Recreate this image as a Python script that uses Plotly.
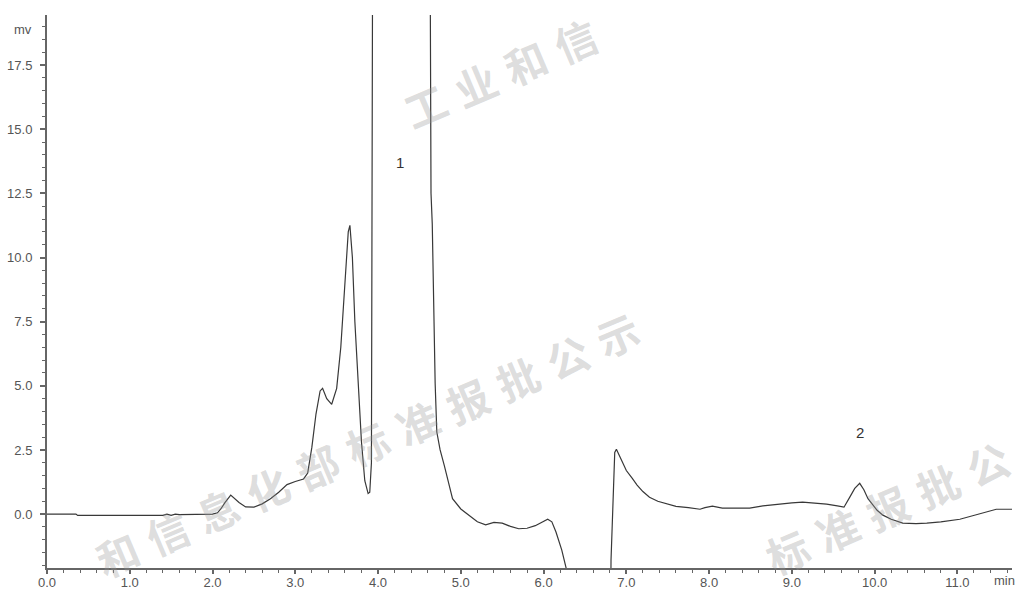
import plotly.graph_objects as go

# Chromatogram readings (retention time, min / signal, mV)
time_min = [0.0, 0.35, 0.37, 1.0, 1.4, 1.45, 1.5, 1.55, 1.6, 2.0, 2.06, 2.1, 2.15, 2.22, 2.27,
            2.32, 2.4, 2.5, 2.6, 2.7, 2.8, 2.9, 3.0, 3.1, 3.15, 3.2, 3.25, 3.3, 3.33, 3.38,
            3.44, 3.5, 3.55, 3.6, 3.64, 3.66, 3.69, 3.72, 3.76, 3.8, 3.84, 3.88, 3.9, 3.92,
            3.94, 4.3, 4.62, 4.64, 4.655, 4.67, 4.69, 4.71, 4.75, 4.8, 4.85, 4.9, 5.0, 5.1,
            5.2, 5.3, 5.4, 5.5, 5.6, 5.7, 5.8, 5.9, 6.0, 6.05, 6.1, 6.15, 6.22, 6.28, 6.35,
            6.8, 6.815, 6.86, 6.88, 6.93, 7.0, 7.07, 7.13, 7.2, 7.28, 7.38, 7.49, 7.6, 7.75,
            7.89, 7.95, 8.04, 8.16, 8.3, 8.49, 8.65, 8.82, 9.0, 9.13, 9.3, 9.42, 9.55, 9.63,
            9.7, 9.76, 9.82, 9.87, 9.92, 9.96, 10.03, 10.1, 10.2, 10.34, 10.5, 10.63, 10.8,
            11.03, 11.25, 11.4, 11.47, 11.72]
signal_mv = [0.0, 0.0, -0.05, -0.05, -0.05, 0.0, -0.05, 0.0, -0.02, 0.0, 0.05, 0.2, 0.45, 0.74, 0.6,
             0.45, 0.28, 0.27, 0.4, 0.6, 0.85, 1.15, 1.27, 1.37, 1.6, 2.6, 3.9, 4.8, 4.9, 4.5,
             4.28, 4.9, 6.5, 9.0, 11.0, 11.25, 10.0, 7.5, 5.0, 2.8, 1.3, 0.8, 0.85, 2.0,
             30.0, 90.0, 30.0, 12.5, 11.3, 8.0, 5.1, 3.2, 2.5, 1.9, 1.2, 0.6, 0.2, -0.05,
             -0.3, -0.42, -0.32, -0.35, -0.48, -0.57, -0.55, -0.45, -0.28, -0.2, -0.3, -0.7, -1.4, -2.2, -8.0,
             -8.0, -1.8, 2.4, 2.53, 2.2, 1.7, 1.4, 1.13, 0.88, 0.66, 0.5, 0.39, 0.3, 0.25,
             0.19, 0.25, 0.31, 0.23, 0.22, 0.23, 0.32, 0.39, 0.44, 0.47, 0.43, 0.39, 0.32, 0.27,
             0.66, 1.0, 1.2, 0.95, 0.6, 0.43, 0.15, -0.04, -0.2, -0.35, -0.37, -0.35, -0.3,
             -0.2, 0.0, 0.15, 0.19, 0.19]

peak_labels = ["1", "2"]
peak_label_time = [4.26, 9.82]
peak_label_mv = [13.7, 3.2]

y_ticks = [0.0, 2.5, 5.0, 7.5, 10.0, 12.5, 15.0, 17.5]
x_ticks = [0.0, 1.0, 2.0, 3.0, 4.0, 5.0, 6.0, 7.0, 8.0, 9.0, 10.0, 11.0]

watermark = "工业和信息化部标准报批公示"

W, H = 1024, 592
L, R, T, B = 47, 12, 15, 24
pw, ph = W - L - R, H - T - B

def px_to_paper(px, py):
    return (px - L) / pw, (H - B - py) / ph

fig = go.Figure()
fig.add_trace(go.Scatter(x=time_min, y=signal_mv, mode="lines",
                         line=dict(color="#383838", width=1.2), hoverinfo="skip",
                         showlegend=False))

annotations = []
# watermark lines: (px, py) of first character, step per char
wm_lines = [(425, 105), (17, 597), (437, 704)]
step = (50, -22)
margin_ok = 26
for (x0, y0) in wm_lines:
    for i, ch in enumerate(watermark):
        px, py = x0 + step[0] * i, y0 + step[1] * i
        if px < margin_ok or px > W - margin_ok or py < margin_ok or py > H - margin_ok:
            continue
        ax, ay = px_to_paper(px, py)
        annotations.append(dict(x=ax, y=ay, xref="paper", yref="paper", text=ch,
                                showarrow=False, textangle=-23, xanchor="center",
                                yanchor="middle",
                                font=dict(family="Noto Sans CJK SC", size=42, weight=700,
                                          color="rgba(150,150,150,0.33)")))

for lab, t, v in zip(peak_labels, peak_label_time, peak_label_mv):
    annotations.append(dict(x=t, y=v, xref="x", yref="y", text=lab, showarrow=False,
                            xanchor="center", yanchor="middle",
                            font=dict(family="Liberation Sans, Arial", size=15, color="#333333")))

ax_, ay_ = px_to_paper(23, 30)
annotations.append(dict(x=ax_, y=ay_, xref="paper", yref="paper", text="mv", showarrow=False,
                        xanchor="center", yanchor="middle",
                        font=dict(family="Liberation Sans, Arial", size=13, color="#555555")))
ax_, ay_ = px_to_paper(1004, 580)
annotations.append(dict(x=ax_, y=ay_, xref="paper", yref="paper", text="min", showarrow=False,
                        xanchor="center", yanchor="middle",
                        font=dict(family="Liberation Sans, Arial", size=13, color="#555555")))

fig.update_layout(
    width=W, height=H,
    margin=dict(l=L, r=R, t=T, b=B),
    paper_bgcolor="white", plot_bgcolor="white",
    annotations=annotations,
    font=dict(family="Liberation Sans, Arial", size=13, color="#555555"),
)
fig.update_xaxes(range=[0, 11.66], tickvals=x_ticks, ticktext=[f"{v:.1f}" for v in x_ticks],
                 automargin=False, ticklabelstandoff=-3,
                 showgrid=False, zeroline=False, showline=True, linecolor="#666666", linewidth=2,
                 ticks="outside", ticklen=4, tickwidth=1.5, tickcolor="#666666",
                 minor=dict(dtick=0.2, tick0=0, ticks="outside", ticklen=3, tickwidth=1.2,
                            tickcolor="#666666", showgrid=False))
fig.update_yaxes(range=[-2.1, 19.45], tickvals=y_ticks, ticktext=[f"{v:.1f}" for v in y_ticks],
                 automargin=False, ticklabelstandoff=5,
                 showgrid=False, zeroline=False, showline=True, linecolor="#666666", linewidth=2,
                 ticks="outside", ticklen=5, tickwidth=1.5, tickcolor="#666666",
                 minor=dict(dtick=0.5, tick0=0, ticks="outside", ticklen=3, tickwidth=1.2,
                            tickcolor="#666666", showgrid=False))

fig.write_html("out.html", config={"displayModeBar": False},
               post_script="document.body.style.margin='0px';"
                           "document.documentElement.style.overflow='hidden';")
